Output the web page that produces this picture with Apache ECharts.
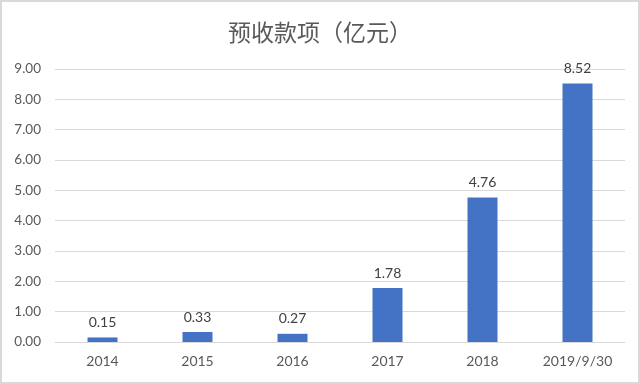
<!DOCTYPE html>
<html><head><meta charset="utf-8">
<style>html,body{margin:0;padding:0;background:#fff}#c{width:640px;height:384px}</style>
<script src="https://cdn.jsdelivr.net/npm/echarts@6/dist/echarts.min.js"></script>
</head><body><div id="c"></div>
<script>
const categories = ['2014','2015','2016','2017','2018','2019/9/30'];
const values = [0.15,0.33,0.27,1.78,4.76,8.52];
const titleText = '预收款项（亿元）';
const chart = echarts.init(document.getElementById('c'));
chart.setOption({
  animation:false,
  backgroundColor:'#fff',
  title:{text:titleText,left:'center',top:16,textStyle:{fontFamily:'Noto Sans CJK SC',fontSize:23,fontWeight:'normal',color:'#595959'}},
  grid:{left:55,right:15,top:69,bottom:42},
  xAxis:{type:'category',data:categories,axisTick:{show:false},
    axisLine:{lineStyle:{color:'#d9d9d9'}},
    axisLabel:{color:'#595959',fontSize:14,fontFamily:'Lato',margin:12}},
  yAxis:{type:'value',min:0,max:9,interval:1,
    axisLabel:{color:'#595959',fontSize:13.5,fontFamily:'Lato',margin:14,formatter:v=>v.toFixed(2)},
    splitLine:{lineStyle:{color:'#d9d9d9'}}},
  series:[{type:'bar',data:values,barWidth:30,itemStyle:{color:'#4472C4'},
    label:{show:true,position:'top',distance:8,color:'#404040',fontSize:14,fontFamily:'Lato',formatter:p=>p.value.toFixed(2)}}],
  graphic:[{type:'rect',shape:{x:1,y:1,width:638,height:382},style:{fill:'none',stroke:'#d9d9d9',lineWidth:2},silent:true}]
});
</script></body></html>
